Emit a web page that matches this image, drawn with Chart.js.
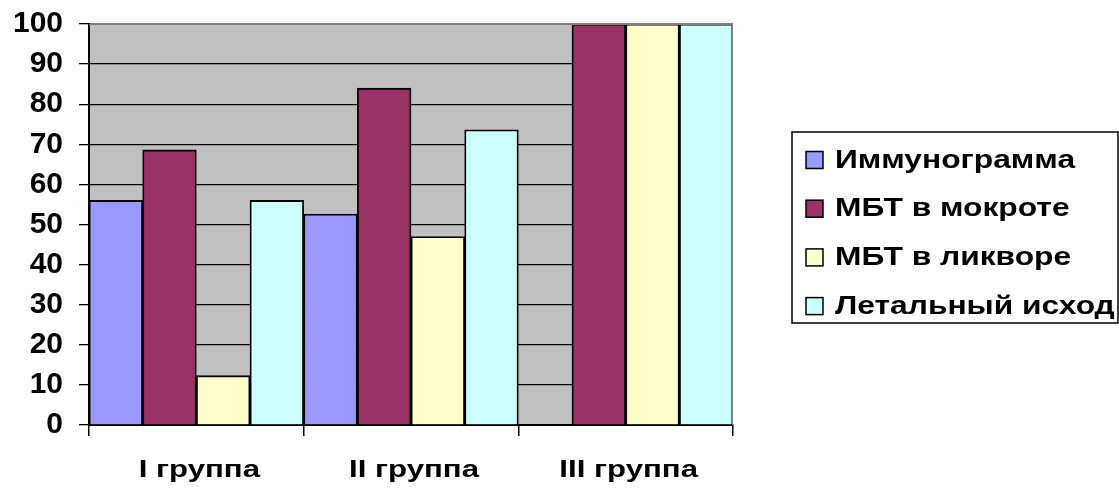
<!DOCTYPE html>
<html>
<head>
<meta charset="utf-8">
<script src="https://cdn.jsdelivr.net/npm/chart.js@4/dist/chart.umd.min.js"></script>
<style>
  html, body { margin: 0; padding: 0; background: #fff; }
  #wrap { width: 1119px; height: 491px; position: relative; }
</style>
</head>
<body>
<div id="wrap"><canvas id="c" width="1119" height="491"></canvas></div>
<script>
// Groups along the x axis
const categories = ['I группа', 'II группа', 'III группа'];

// Series names and values, %, one value per group
const seriesNames = ['Иммунограмма', 'МБТ в мокроте', 'МБТ в ликворе', 'Летальный исход'];
const immunogramVals = [56, 52.6, 0];
const sputumVals = [68.6, 84, 100];
const liquorVals = [12.3, 47, 100];
const lethalVals = [56, 73.6, 100];

// Y axis ticks
const yTicks = [0, 10, 20, 30, 40, 50, 60, 70, 80, 90, 100];

const colors = ['#9999FF', '#993366', '#FFFFCC', '#CCFFFF'];
const FONT = '"Liberation Sans", Arial, sans-serif';
const WIDE = 1.3;      // horizontal stretch of the group labels
const LEGEND_WIDE = 1.245;

const seriesValues = [immunogramVals, sputumVals, liquorVals, lethalVals];

// Grey plot area and its thin top/right frame
const plotBackground = {
  id: 'plotBackground',
  beforeDraw(chart) {
    const { ctx, chartArea: a } = chart;
    ctx.save();
    ctx.fillStyle = '#C0C0C0';
    ctx.fillRect(a.left, a.top, a.right - a.left, a.bottom - a.top);
    ctx.restore();
    // group labels are drawn with broad glyphs
    const xs = chart.scales.x;
    if (xs && !xs._wide) {
      const base = Object.getPrototypeOf(xs).drawLabels;
      xs.drawLabels = function (area) {
        const c = this.ctx;
        const orig = c.fillText;
        c.fillText = function (t, x, y) {
          c.save();
          c.translate(x + 3, y);
          c.scale(WIDE, 1);
          orig.call(c, t, 0, 0);
          c.restore();
        };
        base.call(this, area);
        c.fillText = orig;
      };
      xs._wide = true;
    }
  },
  afterDatasetsDraw(chart) {
    const { ctx, chartArea: a } = chart;
    ctx.save();
    ctx.strokeStyle = '#808080';
    ctx.lineWidth = 1;
    ctx.beginPath();
    ctx.moveTo(a.left, a.top + 0.5);
    ctx.lineTo(a.right, a.top + 0.5);
    ctx.moveTo(a.right - 0.5, a.top);
    ctx.lineTo(a.right - 0.5, a.bottom);
    ctx.stroke();
    ctx.restore();
  }
};

// Framed legend to the right of the plot
const boxLegend = {
  id: 'boxLegend',
  afterDraw(chart) {
    const ctx = chart.ctx;
    const x0 = 792, y0 = 132, w = 326, h = 191;
    ctx.save();
    ctx.strokeStyle = '#000';
    ctx.lineWidth = 1.5;
    ctx.strokeRect(x0, y0, w, h);
    ctx.font = 'bold 25.5px ' + FONT;
    ctx.textBaseline = 'middle';
    chart.data.datasets.forEach((ds, i) => {
      const cy = 159.5 + i * 48.7;
      ctx.fillStyle = ds.backgroundColor;
      ctx.fillRect(806, cy - 8, 17, 17);
      ctx.strokeStyle = '#000';
      ctx.lineWidth = 1.5;
      ctx.strokeRect(806, cy - 8, 17, 17);
      ctx.fillStyle = '#000';
      ctx.save();
      ctx.translate(835, cy + 1);
      ctx.scale(LEGEND_WIDE, 1);
      ctx.fillText(ds.label, 0, 0);
      ctx.restore();
    });
    ctx.restore();
  }
};

new Chart(document.getElementById('c'), {
  type: 'bar',
  data: {
    labels: categories,
    datasets: seriesNames.map((name, i) => ({
      label: name,
      data: seriesValues[i],
      backgroundColor: colors[i],
      borderColor: '#000',
      borderWidth: 1.8,
      categoryPercentage: 1.0,
      barPercentage: 1.0
    }))
  },
  options: {
    responsive: false,
    animation: false,
    devicePixelRatio: 1,
    layout: { padding: { top: 24, right: 386, left: 0, bottom: 0 } },
    plugins: {
      legend: { display: false },
      tooltip: { enabled: false }
    },
    scales: {
      x: {
        grid: {
          offset: true,
          drawOnChartArea: false,
          drawTicks: true,
          tickLength: 11,
          color: '#000',
          lineWidth: 1.5
        },
        border: { color: '#000', width: 2 },
        ticks: {
          color: '#000',
          font: { family: FONT, size: 24, weight: 'bold' },
          padding: 20
        },
        afterFit(scale) { scale.height = 66; scale.paddingLeft = 0; scale.paddingRight = 0; }
      },
      y: {
        min: 0,
        max: 100,
        afterBuildTicks(scale) { scale.ticks = yTicks.map(v => ({ value: v })); },
        grid: {
          color: (c) => c.tick && c.tick.value === 100 ? '#808080' : '#000',
          tickColor: '#000',
          lineWidth: 1.3,
          tickLength: 10
        },
        border: { color: '#000', width: 2 },
        ticks: {
          color: '#000',
          font: { family: FONT, size: 30, weight: 'bold' },
          padding: 16
        },
        afterFit(scale) { scale.width = 89; scale.paddingTop = 0; scale.paddingBottom = 0; }
      }
    }
  },
  plugins: [plotBackground, boxLegend]
});
</script>
</body>
</html>
